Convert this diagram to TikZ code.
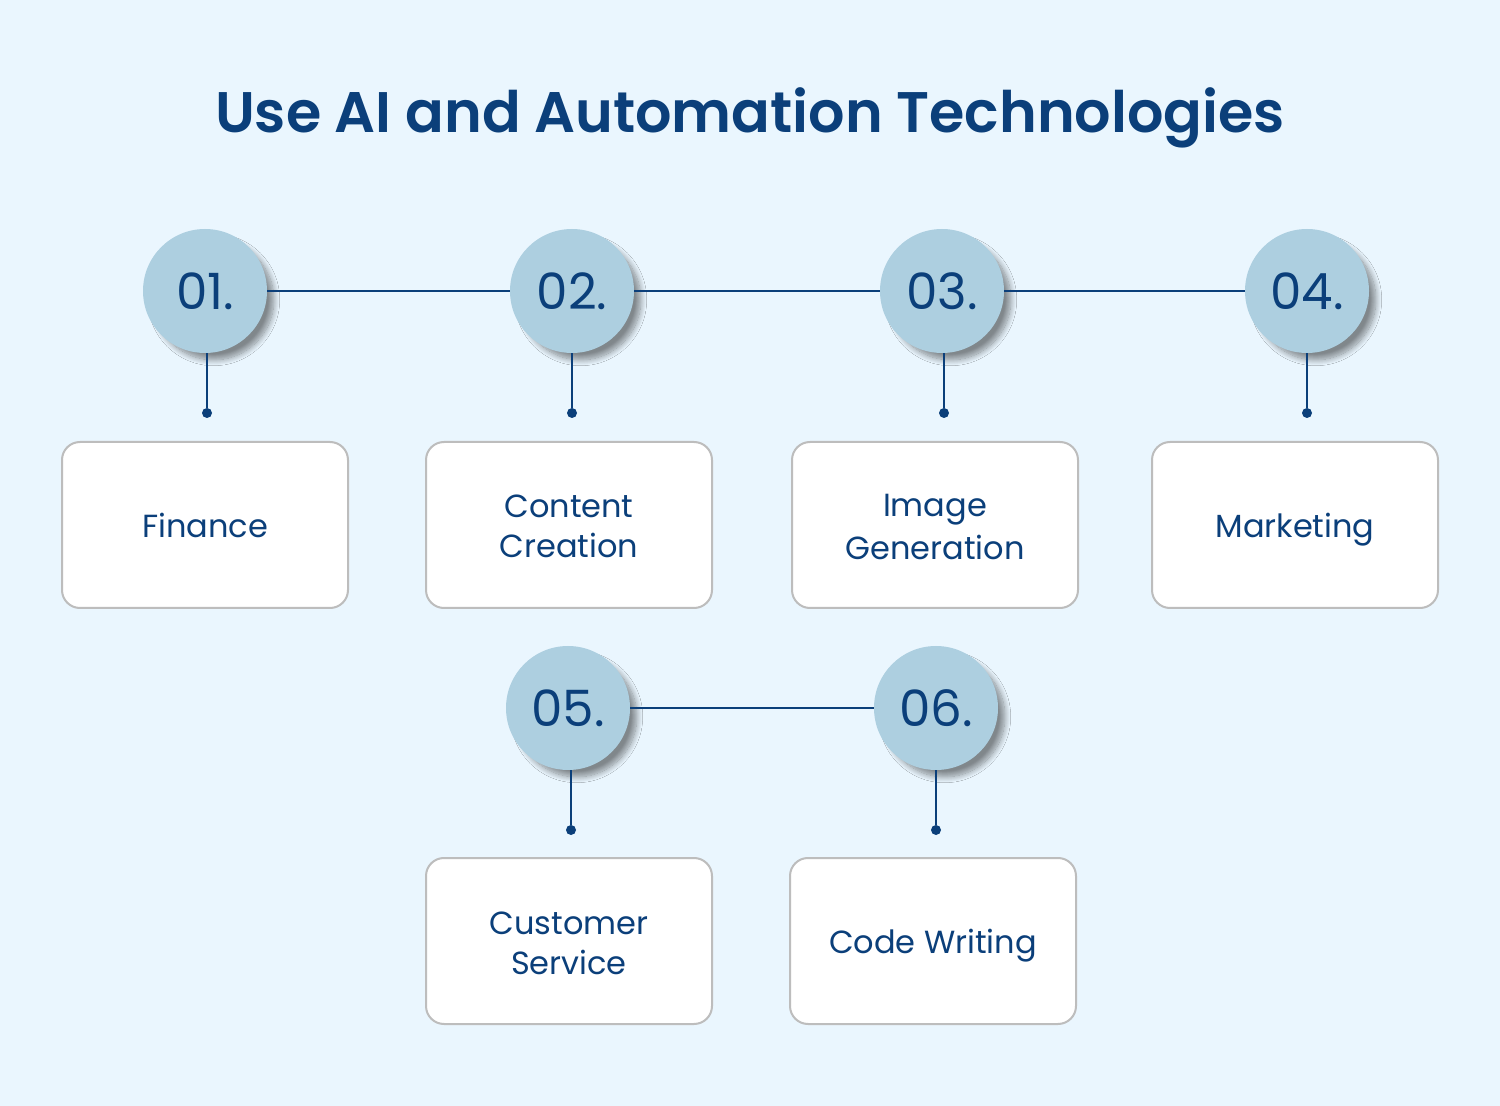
\documentclass[tikz,border=0pt]{standalone}
\usepackage{fontspec}
\setmainfont{Poppins}[BoldFont={Poppins SemiBold}]
\usetikzlibrary{shadows.blur}
\definecolor{bgc}{HTML}{EAF6FE}
\definecolor{navy}{HTML}{0B3F7A}
\definecolor{circ}{HTML}{ADCFE0}
\definecolor{boxline}{HTML}{BDBDBD}
\newcommand\cardstrut{\rule[-3.5pt]{0pt}{20pt}}
\begin{document}
\begin{tikzpicture}[x=0.5pt,y=-0.5pt,
  numc/.style={circle, fill=circ, minimum size=62pt, inner sep=0pt, text=navy,
    font=\fontsize{25}{28}\selectfont,
    blur shadow={shadow xshift=4.5pt, shadow yshift=-4.5pt, shadow scale=0.97, shadow blur steps=12, shadow opacity=45, shadow blur radius=3pt}},
  card/.style={draw=boxline, line width=1pt, fill=white, rounded corners=9pt,
    minimum width=143pt, minimum height=83pt, text=navy, align=center,
    font=\fontsize{16}{20}\selectfont},
  link/.style={draw=navy, line width=1pt},
  dotc/.style={circle, fill=navy, inner sep=0pt, minimum size=5pt}
]
\fill[bgc] (0,0) rectangle (1500,1106);
\useasboundingbox (0,0) rectangle (1500,1106);
\node[text=navy, font=\fontsize{28.6}{34}\selectfont\bfseries] (title) at (750,118) {Use AI and Automation Technologies};

\node[card] (b1) at (205,525) {\cardstrut Finance};
\node[card] (b2) at (569,525) {\cardstrut Content\\\cardstrut Creation};
\node[card] (b3) at (935,525) {\cardstrut Image\\\cardstrut Generation};
\node[card] (b4) at (1295,525) {\cardstrut Marketing};
\node[card] (b5) at (569,941) {\cardstrut Customer\\\cardstrut Service};
\node[card] (b6) at (933,941) {\cardstrut Code Writing};

\node[numc] (c1) at (205,291) {01.};
\node[numc] (c2) at (572,291) {02.};
\node[numc] (c3) at (942,291) {03.};
\node[numc] (c4) at (1307,291) {04.};
\node[numc] (c5) at (568,708) {05.};
\node[numc] (c6) at (936,708) {06.};

\draw[link] (c1) -- (c2);
\draw[link] (c2) -- (c3);
\draw[link] (c3) -- (c4);
\draw[link] (c5) -- (c6);

\foreach \i/\x/\y in {1/207/413, 2/572/413, 3/944/413, 4/1307/413, 5/571/830, 6/936/830} {
  \node[dotc] (d\i) at (\x,\y) {};
}
\draw[link] (c1.south -| d1) -- (d1);
\draw[link] (c2.south -| d2) -- (d2);
\draw[link] (c3.south -| d3) -- (d3);
\draw[link] (c4.south -| d4) -- (d4);
\draw[link] (c5.south -| d5) -- (d5);
\draw[link] (c6.south -| d6) -- (d6);
\end{tikzpicture}
\end{document}
